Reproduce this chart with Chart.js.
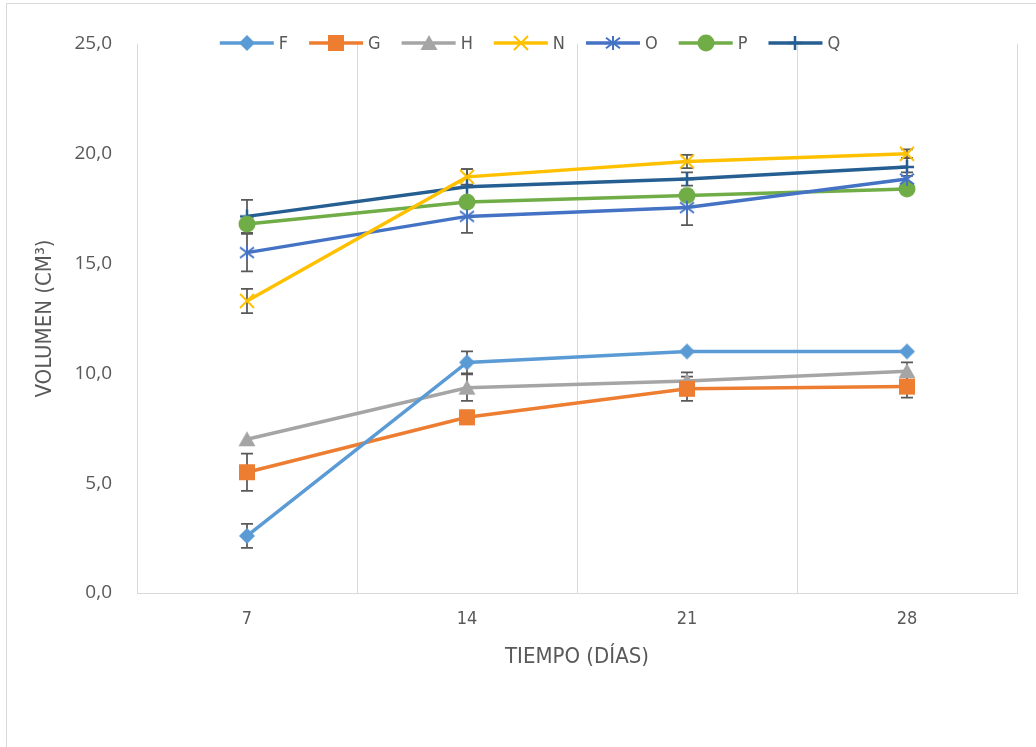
<!DOCTYPE html>
<html>
<head>
<meta charset="utf-8">
<script src="https://cdn.jsdelivr.net/npm/chart.js@4/dist/chart.umd.min.js"></script>
<style>
  html, body { margin: 0; padding: 0; background: #ffffff; overflow: hidden; }
  #wrap { position: relative; width: 1036px; height: 747px; overflow: hidden; }
  #frame { position: absolute; left: 6px; top: 3px; width: 1060px; height: 780px; border: 1px solid #d9d9d9; box-sizing: border-box; }
  canvas { position: absolute; left: 0; top: 0; }
</style>
</head>
<body>
<div id="wrap">
  <div id="frame"></div>
  <canvas id="c" width="1036" height="747"></canvas>
</div>
<script>
// Sampling days
const days = ['7', '14', '21', '28'];

// Mean volume per series (cm³)
const F = [2.6, 10.5, 11.0, 11.0];
const G = [5.5, 8.0, 9.3, 9.4];
const H = [7.0, 9.35, 9.65, 10.1];
const N = [13.3, 18.95, 19.65, 20.0];
const O = [15.5, 17.15, 17.55, 18.85];
const P = [16.8, 17.8, 18.1, 18.4];
const Q = [17.15, 18.5, 18.85, 19.4];

// Standard deviation per series (± cm³)
const errF = [0.55, 0.5, 0, 0];
const errG = [0.85, 0.3, 0.55, 0.5];
const errH = [0, 0.6, 0.4, 0.4];
const errN = [0.55, 0.35, 0.3, 0.2];
const errO = [0.85, 0.75, 0.8, 0.3];
const errP = [0.2, 0.2, 0.2, 0.2];
const errQ = [0.75, 0.8, 0.3, 0.4];

// Y-axis tick labels (decimal comma)
const yTickLabels = ['0,0', '5,0', '10,0', '15,0', '20,0', '25,0'];

const seriesNames = ['F', 'G', 'H', 'N', 'O', 'P', 'Q'];
const seriesValues = [F, G, H, N, O, P, Q];
const seriesErrors = [errF, errG, errH, errN, errO, errP, errQ];
const seriesColors = ['#5B9BD5', '#ED7D31', '#A5A5A5', '#FFC000', '#4472C4', '#70AD47', '#255E91'];
const seriesMarkers = ['diamond', 'square', 'triangle', 'x', 'asterisk', 'circle', 'plus'];

const NARROW = '"Liberation Sans Narrow", "DejaVu Sans Condensed", "Liberation Sans", sans-serif';
const TEXT = '#595959';

// Build a marker image for each series
function makeMarker(kind, color) {
  const s = 22;
  const cv = document.createElement('canvas');
  cv.width = s; cv.height = s;
  const g = cv.getContext('2d');
  const c = s / 2;
  g.fillStyle = color;
  g.strokeStyle = color;
  g.lineCap = 'butt';
  g.beginPath();
  if (kind === 'diamond') {
    const r = 8;
    g.moveTo(c, c - r); g.lineTo(c + r, c); g.lineTo(c, c + r); g.lineTo(c - r, c); g.closePath(); g.fill();
  } else if (kind === 'square') {
    g.rect(c - 8, c - 8, 16, 16); g.fill();
  } else if (kind === 'triangle') {
    g.moveTo(c, c - 8); g.lineTo(c + 8.5, c + 7); g.lineTo(c - 8.5, c + 7); g.closePath(); g.fill();
  } else if (kind === 'circle') {
    g.arc(c, c, 8.5, 0, Math.PI * 2); g.fill();
  } else if (kind === 'x') {
    const r = 7;
    g.lineWidth = 2;
    g.moveTo(c - r, c - r); g.lineTo(c + r, c + r);
    g.moveTo(c + r, c - r); g.lineTo(c - r, c + r); g.stroke();
  } else if (kind === 'asterisk') {
    const r = 7;
    g.lineWidth = 2;
    g.moveTo(c - r, c - r * 0.75); g.lineTo(c + r, c + r * 0.75);
    g.moveTo(c + r, c - r * 0.75); g.lineTo(c - r, c + r * 0.75);
    g.moveTo(c, c - r); g.lineTo(c, c + r); g.stroke();
  } else if (kind === 'plus') {
    const r = 7;
    g.lineWidth = 2.5;
    g.moveTo(c, c - r); g.lineTo(c, c + r);
    g.moveTo(c - r, c); g.lineTo(c + r, c); g.stroke();
  }
  return cv;
}

const markerImages = seriesMarkers.map((m, i) => makeMarker(m, seriesColors[i]));

const datasets = seriesNames.map((name, i) => ({
  label: name,
  data: seriesValues[i],
  errors: seriesErrors[i],
  borderColor: seriesColors[i],
  backgroundColor: seriesColors[i],
  borderWidth: 3.5,
  tension: 0,
  pointStyle: markerImages[i],
  pointRadius: 8,
  pointHoverRadius: 8,
  fill: false
}));

// Vertical error bars with caps, drawn under the lines
const errorBars = {
  id: 'errorBars',
  beforeDatasetsDraw(chart) {
    const ctx = chart.ctx;
    const xs = chart.scales.x, ys = chart.scales.y;
    ctx.save();
    ctx.strokeStyle = '#595959';
    ctx.lineWidth = 1.75;
    chart.data.datasets.forEach(ds => {
      ds.data.forEach((v, j) => {
        const e = ds.errors[j];
        if (!e) return;
        const x = xs.getPixelForValue(j);
        const yt = ys.getPixelForValue(v + e);
        const yb = ys.getPixelForValue(v - e);
        ctx.beginPath();
        ctx.moveTo(x, yt); ctx.lineTo(x, yb);
        ctx.moveTo(x - 6, yt); ctx.lineTo(x + 6, yt);
        ctx.moveTo(x - 6, yb); ctx.lineTo(x + 6, yb);
        ctx.stroke();
      });
    });
    ctx.restore();
  }
};

// Legend row: line sample with marker, then the series name
const lineLegend = {
  id: 'lineLegend',
  afterDraw(chart) {
    const ctx = chart.ctx;
    const lineLen = 54, gapText = 5, gapItem = 21, cy = 43, centerX = 530;
    ctx.save();
    ctx.font = '18px ' + NARROW;
    const widths = seriesNames.map(n => ctx.measureText(n).width);
    let total = 0;
    widths.forEach((w, i) => { total += lineLen + gapText + w + (i < widths.length - 1 ? gapItem : 0); });
    let x = centerX - total / 2;
    ctx.textBaseline = 'middle';
    ctx.textAlign = 'left';
    seriesNames.forEach((n, i) => {
      ctx.strokeStyle = seriesColors[i];
      ctx.lineWidth = 3.5;
      ctx.beginPath();
      ctx.moveTo(x, cy); ctx.lineTo(x + lineLen, cy); ctx.stroke();
      const img = markerImages[i];
      ctx.drawImage(img, Math.round(x + lineLen / 2 - img.width / 2), Math.round(cy - img.height / 2));
      ctx.fillStyle = TEXT;
      ctx.fillText(n, x + lineLen + gapText, cy + 1);
      x += lineLen + gapText + widths[i] + gapItem;
    });
    ctx.restore();
  }
};

new Chart(document.getElementById('c'), {
  type: 'line',
  data: { labels: days, datasets },
  plugins: [errorBars, lineLegend],
  options: {
    responsive: false,
    animation: false,
    events: [],
    layout: { padding: { top: 44, right: 19, bottom: 77, left: 0 } },
    plugins: {
      legend: { display: false },
      tooltip: { enabled: false }
    },
    scales: {
      x: {
        type: 'category',
        offset: true,
        grid: { display: true, offset: true, color: '#d9d9d9', lineWidth: 1, drawTicks: false },
        border: { display: true, color: '#d9d9d9', width: 1 },
        ticks: { color: TEXT, font: { family: NARROW, size: 18 }, padding: 16 },
        title: { display: true, text: 'TIEMPO (DÍAS)', color: TEXT, font: { family: NARROW, size: 22 }, padding: { top: 14, bottom: 0 } },
        afterFit(scale) { scale.height = 77; }
      },
      y: {
        min: 0, max: 25,
        grid: { display: false, drawTicks: false },
        border: { display: true, color: '#d9d9d9', width: 1 },
        ticks: {
          stepSize: 5,
          color: TEXT,
          font: { family: '"Open Sans", sans-serif', size: 19 },
          padding: 25,
          callback: (v) => yTickLabels[Math.round(v / 5)]
        },
        title: { display: true, text: 'VOLUMEN (CM³)', color: TEXT, font: { family: NARROW, size: 22 }, padding: { top: 32, bottom: 0 } },
        afterFit(scale) { scale.width = 137; }
      }
    }
  }
});
</script>
</body>
</html>
